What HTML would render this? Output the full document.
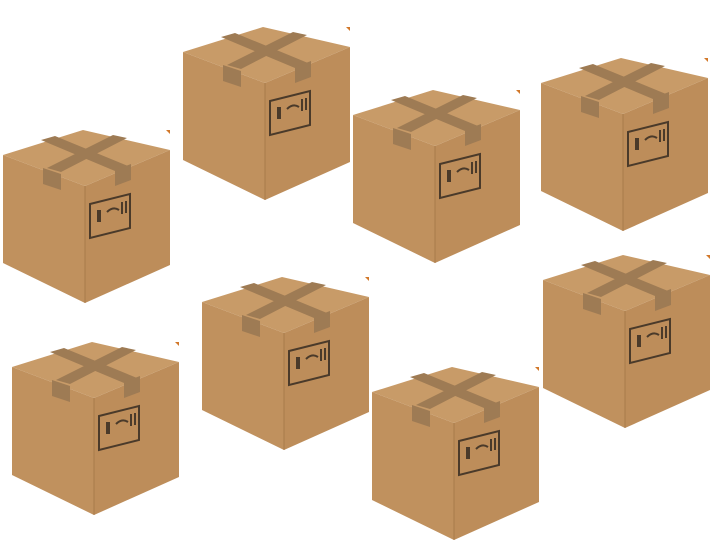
<!DOCTYPE html>
<html><head><meta charset="utf-8"><style>html,body{margin:0;padding:0;background:#fff;width:720px;height:540px;overflow:hidden}</style></head>
<body>
<svg width="720" height="540" viewBox="0 0 720 540" xmlns="http://www.w3.org/2000/svg">
<defs>
<g id="box">
  <polygon points="0,25 82,56 82,173 0,133" fill="#c0915e"/>
  <polygon points="82,56 167,20 167,135 82,173" fill="#bd8d5a"/>
  <polygon points="0,25 80,0 167,20 82,56" fill="#c89b68"/>
  <line x1="82" y1="56" x2="82" y2="173" stroke="#a87a4a" stroke-width="1"/>
  <polygon points="38,10 52,6 125,36 112,41" fill="#9e7b54"/>
  <polygon points="110,5 124,8 58,42 44,38" fill="#9e7b54"/>
  <polygon points="40,38 58,44 58,60 40,54" fill="#9e7b54"/>
  <polygon points="112,40 128,34 128,50 112,56" fill="#9e7b54"/>
  <polygon points="87,74 127,64 127,98 87,108" fill="none" stroke="#4a3a2a" stroke-width="2"/>
  <rect x="94" y="80" width="4" height="12" fill="#4a3a2a"/>
  <path d="M104,82 q6,-6 12,-2" stroke="#4a3a2a" stroke-width="2" fill="none"/>
  <rect x="118" y="72" width="2" height="12" fill="#4a3a2a"/>
  <rect x="122" y="71" width="2" height="12" fill="#4a3a2a"/>
  <polygon points="167,0 163,0 167,4" fill="#d2782a"/>
</g>
</defs>
<use href="#box" x="183" y="27"/>
<use href="#box" x="3" y="130"/>
<use href="#box" x="353" y="90"/>
<use href="#box" x="541" y="58"/>
<use href="#box" x="12" y="342"/>
<use href="#box" x="202" y="277"/>
<use href="#box" x="372" y="367"/>
<use href="#box" x="543" y="255"/>
</svg>
</body></html>
